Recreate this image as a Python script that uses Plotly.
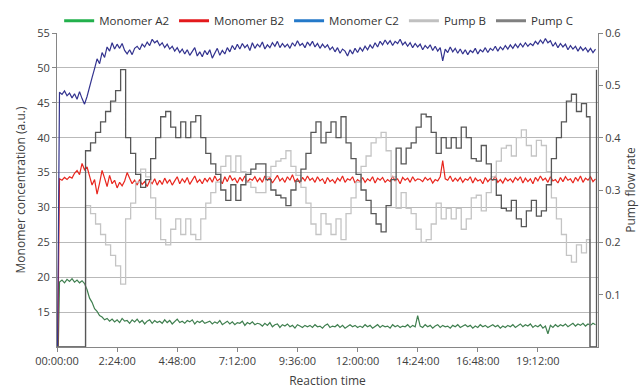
import numpy as np
import plotly.graph_objects as go

# ---------------- data ----------------
SAMPLE_STEP_H = 0.1          # monomer sampling interval (hours)
monomer_a2 = [0,
    19.3, 19.6, 19.2, 19.7, 19.4, 19.8, 19.3, 19.6, 19.2, 19.5,
    19.1, 18.2, 17.0, 16.4, 15.5, 15.1, 14.5, 14.3, 13.9, 14.1,
    13.7, 14.0, 13.6, 13.9, 13.5, 14.1, 13.7, 13.8, 13.4, 13.9, 13.6, 14.0, 13.5, 13.8, 13.3, 13.7, 13.9, 13.4, 13.8, 13.5,
    13.7, 13.4, 13.9, 13.5, 13.8, 13.3, 13.6, 14.0, 13.5, 13.7, 13.4, 13.8, 13.6, 13.9, 13.3, 13.7, 13.5, 13.8, 13.4, 13.6,
    13.7, 13.3, 13.6, 13.4, 13.8, 13.2, 13.5, 13.7, 13.3, 13.6, 13.2, 13.5, 13.4, 13.7, 13.1, 13.5, 13.3, 13.6, 13.2, 13.4,
    13.3, 13.0, 13.4, 13.1, 13.5, 12.9, 13.2, 13.3, 12.8, 13.2, 13.0, 13.3, 12.9, 13.1, 12.7, 13.2, 13.0, 12.8, 13.1, 12.9,
    13.1, 12.8, 13.2, 12.9, 13.0, 12.7, 13.1, 13.3, 12.8, 13.0, 12.9, 13.2, 12.8, 13.1, 12.7, 13.0, 13.2, 12.9, 13.1, 12.8,
    13.0, 12.8, 13.2, 12.9, 13.1, 12.7, 13.0, 13.2, 12.8, 13.1, 12.9, 13.0, 12.7, 13.2, 12.9, 13.1, 12.8, 13.0, 12.9, 13.2,
    12.8, 13.1, 12.9, 14.5, 13.0, 12.8, 13.2, 12.9, 13.1, 12.7, 13.0, 13.2, 12.8, 13.1, 12.9, 13.0, 12.7, 13.1, 12.9, 13.2,
    12.8, 13.0, 13.2, 12.9, 13.1, 12.7, 13.0, 12.8, 13.2, 12.9, 13.1, 12.8, 13.0, 13.2, 12.9, 13.1, 12.7, 13.0, 12.8, 13.1,
    12.9, 13.2, 12.8, 13.1, 13.3, 12.9, 13.2, 13.0, 13.3, 12.8, 13.1, 12.9, 13.2, 12.7, 13.0, 11.9, 13.1, 12.8, 13.2, 12.9,
    13.2, 13.0, 13.3, 12.9, 13.2, 13.4, 13.0, 13.3, 13.1, 13.4, 13.0, 13.3, 13.1, 13.4, 13.2]

monomer_b2 = [0,
    34.1, 33.9, 34.3, 34.0, 34.4, 34.2, 34.9, 35.3, 34.7, 36.3,
    35.4, 35.8, 34.6, 33.2, 34.0, 31.9, 33.5, 35.3, 34.2, 33.0,
    34.6, 33.4, 33.9, 32.8, 33.6, 33.1, 33.8, 35.0, 34.2, 33.4,
    33.9, 33.2, 34.0, 33.3, 33.7, 33.0, 33.8, 33.4, 34.1, 33.2,
    33.9, 33.3, 34.2, 33.5, 34.0, 33.2, 33.8, 34.4, 33.4, 34.1, 33.6, 34.3, 33.3, 33.9, 34.5, 33.6, 34.0, 33.4, 34.2, 33.7,
    34.3, 33.6, 34.5, 33.8, 34.1, 33.4, 34.4, 33.7, 34.6, 33.9, 34.2, 33.5, 34.3, 33.8, 34.5, 33.6, 34.1, 33.9, 34.4, 33.7,
    34.2, 33.6, 34.5, 33.9, 34.3, 33.5, 34.1, 34.6, 33.8, 34.2, 33.6, 34.4, 33.9, 34.7, 33.7, 34.1, 33.5, 34.3, 33.8, 34.5,
    33.9, 34.2, 33.6, 34.4, 33.8, 34.1, 33.4, 34.3, 33.7, 34.0, 33.5, 34.2, 33.8, 34.5, 33.6, 34.1, 33.9, 34.4, 33.5, 34.0,
    33.7, 34.3, 33.6, 34.1, 33.8, 34.4, 33.5, 34.2, 33.9, 34.3, 33.6, 34.0, 33.7, 34.5, 33.8, 34.1, 33.4, 34.3, 33.9, 34.2,
    33.6, 34.4, 33.8, 34.1, 34.0, 33.7, 34.3, 33.9, 34.2, 33.5, 34.0, 33.8, 34.4, 36.7, 34.1, 33.9, 34.5, 33.7, 34.2, 33.8,
    34.3, 33.6, 34.1, 33.9, 34.4, 33.5, 34.2, 33.8, 34.0, 33.4, 34.3, 33.7, 34.1, 33.9, 34.5, 33.6, 34.0, 33.5, 34.2, 33.8,
    34.1, 33.6, 34.3, 33.9, 34.4, 33.5, 34.2, 33.7, 34.1, 33.4, 34.3, 33.8, 34.5, 33.9, 34.2, 33.6, 34.4, 33.8, 34.0, 33.5,
    34.3, 33.7, 34.4, 33.9, 34.1, 33.5, 34.3, 33.8, 34.5, 33.6, 34.2, 33.9, 34.4, 33.7, 34.1]

monomer_c2 = [0,
    46.5, 46.2, 46.7, 46.0, 46.4, 45.7, 46.3, 45.5, 46.6, 45.6,
    44.8, 45.9, 47.4, 48.6, 49.9, 51.3, 50.6, 52.2, 51.5, 53.0,
    52.4, 53.6, 52.7, 53.4, 52.8, 53.5, 52.5, 52.0, 52.6, 51.9,
    52.8, 53.1, 52.6, 53.4, 53.0, 53.7, 53.2, 54.1, 53.6, 53.9,
    53.2, 53.6, 52.9, 53.4, 52.7, 53.1, 52.4, 52.9, 52.2, 52.7,
    52.0, 52.6, 51.8, 52.4, 52.9, 51.7, 52.3, 51.6, 52.5, 51.9,
    52.6, 51.4, 52.2, 52.8, 51.8, 52.5, 52.0, 52.9, 52.3, 53.2,
    52.6, 53.4, 52.7, 53.5, 52.9, 53.3, 52.5, 53.6, 52.8, 53.4,
    53.0, 53.7, 52.7, 53.3, 52.9, 53.6, 53.1, 53.8, 52.9, 53.5,
    53.0, 53.4, 52.8, 53.6, 53.1, 53.9, 53.2, 53.5, 52.9, 53.7,
    53.2, 53.8, 53.0, 53.5, 52.8, 53.4, 52.9, 53.3, 52.6, 53.0,
    52.3, 52.9, 52.1, 52.7, 52.4, 51.7, 52.6, 52.0, 52.8, 52.2,
    52.9, 52.4, 53.1, 52.6, 53.3, 52.8, 53.6, 53.0, 53.8, 53.3,
    54.0, 53.4, 53.9, 53.2, 53.8, 53.5, 54.1, 53.3, 53.7, 53.1,
    53.6, 52.9, 53.5, 53.0, 53.4, 52.6, 53.2, 52.8, 53.3, 52.5,
    53.1, 52.4, 52.9, 51.0, 52.7, 52.2, 53.0, 52.3, 52.8, 52.1,
    52.7, 52.0, 52.6, 51.9, 52.5, 52.2, 52.8, 52.0, 52.6, 52.3,
    52.9, 52.2, 52.8, 52.5, 53.1, 52.4, 53.0, 52.6, 53.2, 52.7,
    53.3, 52.8, 53.4, 52.9, 53.5, 53.0, 53.6, 53.1, 53.5, 53.2,
    53.8, 53.4, 54.0, 53.5, 54.2, 53.6, 53.9, 53.1, 53.6, 52.9,
    53.5, 53.0, 53.4, 52.6, 53.2, 52.7, 53.1, 52.4, 53.0, 52.5,
    52.9, 52.3, 52.8, 52.2, 52.7]

PUMP_START_H = 1.14          # pumps switch on
PUMP_STEP_H = 0.2            # pump set-point interval (hours)
pump_c = [0.375, 0.39, 0.41, 0.43, 0.45, 0.47, 0.49, 0.53, 0.40, 0.37,
          0.33, 0.305, 0.32, 0.36, 0.40, 0.44, 0.45, 0.42, 0.40, 0.43,
          0.40, 0.43, 0.442, 0.40, 0.37, 0.35, 0.33, 0.30, 0.28, 0.31,
          0.28, 0.31, 0.33, 0.34, 0.35, 0.35, 0.32, 0.30, 0.29, 0.285,
          0.27, 0.30, 0.317, 0.34, 0.37, 0.41, 0.43, 0.39, 0.41, 0.43,
          0.40, 0.44, 0.39, 0.36, 0.33, 0.30, 0.28, 0.255, 0.235, 0.22,
          0.27, 0.32, 0.38, 0.35, 0.38, 0.39, 0.42, 0.445, 0.44, 0.41,
          0.37, 0.40, 0.38, 0.40, 0.38, 0.42, 0.40, 0.36, 0.355, 0.385,
          0.35, 0.32, 0.29, 0.265, 0.26, 0.28, 0.245, 0.23, 0.26, 0.28,
          0.25, 0.26, 0.31, 0.36, 0.40, 0.43, 0.47, 0.483, 0.45, 0.465,
          0.44]
pump_b = [0.27, 0.255, 0.235, 0.215, 0.195, 0.175, 0.155, 0.12, 0.245, 0.275,
          0.315, 0.34, 0.325, 0.285, 0.245, 0.205, 0.195, 0.225, 0.245, 0.215,
          0.245, 0.215, 0.205, 0.245, 0.275, 0.295, 0.315, 0.345, 0.365, 0.335,
          0.365, 0.335, 0.315, 0.305, 0.295, 0.295, 0.325, 0.345, 0.355, 0.36,
          0.375, 0.345, 0.328, 0.305, 0.275, 0.235, 0.215, 0.255, 0.235, 0.215,
          0.245, 0.205, 0.255, 0.285, 0.315, 0.345, 0.365, 0.39, 0.40, 0.41,
          0.375, 0.325, 0.265, 0.295, 0.265, 0.255, 0.225, 0.20, 0.205, 0.235,
          0.275, 0.245, 0.265, 0.245, 0.265, 0.225, 0.245, 0.285, 0.29, 0.26,
          0.295, 0.325, 0.355, 0.38, 0.385, 0.365, 0.40, 0.415, 0.385, 0.365,
          0.395, 0.385, 0.335, 0.285, 0.245, 0.215, 0.175, 0.162, 0.195, 0.18,
          0.205]
pump_end_t = [21.28, 21.54]
pump_c_end = [0.0, 0.53]
pump_b_end = [0.0, 0.0]

tick_hours = [0, 2.4, 4.8, 7.2, 9.6, 12.0, 14.4, 16.8, 19.2]
tick_labels = ["00:00:00", "2:24:00", "4:48:00", "7:12:00", "9:36:00",
               "12:00:00", "14:24:00", "16:48:00", "19:12:00"]
left_ticks = [15, 20, 25, 30, 35, 40, 45, 50, 55]
right_ticks = [0.1, 0.2, 0.3, 0.4, 0.5, 0.6]

# ---------------- build ----------------
t_mono = np.round(np.arange(len(monomer_a2)) * SAMPLE_STEP_H, 3)
t_pump_core = np.round(PUMP_START_H + np.arange(len(pump_c)) * PUMP_STEP_H, 3)
t_pump = [0.0] + list(t_pump_core) + pump_end_t
pc = [0.0] + pump_c + pump_c_end
pb = [0.0] + pump_b + pump_b_end

FONT = "Open Sans"
TXT = "#404040"
AX = "#868686"

fig = go.Figure()
line_traces = [
    ("Monomer A2", t_mono, monomer_a2, "#3f7f4f"),
    ("Monomer B2", t_mono, monomer_b2, "#e8261e"),
    ("Monomer C2", t_mono, monomer_c2, "#33338f"),
]
for name, x, y, c in line_traces:
    fig.add_trace(go.Scatter(x=x, y=y, mode="lines", name=name, showlegend=False,
                             line=dict(color=c, width=1.2), yaxis="y", hoverinfo="skip"))
fig.add_trace(go.Scatter(x=t_pump, y=pb, mode="lines", name="Pump B", showlegend=False,
                         line=dict(color="#c4c4c4", width=1.3, shape="hv"), yaxis="y2",
                         hoverinfo="skip"))
fig.add_trace(go.Scatter(x=t_pump, y=pc, mode="lines", name="Pump C", showlegend=False,
                         line=dict(color="#575757", width=1.3, shape="hv"), yaxis="y2",
                         hoverinfo="skip"))

legend_items = [("Monomer A2", "#22b04c"), ("Monomer B2", "#e3191c"),
                ("Monomer C2", "#2479c9"), ("Pump B", "#c0c0c0"), ("Pump C", "#808080")]
for name, c in legend_items:
    fig.add_trace(go.Scatter(x=[None], y=[None], mode="lines", name=name,
                             line=dict(color=c, width=3)))

fig.update_layout(
    width=641, height=389,
    margin=dict(l=57, r=43, t=33, b=42, autoexpand=False),
    paper_bgcolor="white", plot_bgcolor="white",
    font=dict(family=FONT, size=11, color=TXT),
    hovermode=False,
    showlegend=True,
    legend=dict(orientation="h", x=0.004, xanchor="left", y=1.085, yanchor="top",
                font=dict(size=11.5, color="#333333"), itemwidth=30,
                bgcolor="rgba(0,0,0,0)", traceorder="normal"),
    xaxis=dict(range=[0, 21.6], tickvals=tick_hours, ticktext=tick_labels,
               showgrid=False, zeroline=False, showline=True, linecolor=AX,
               ticks="outside", ticklen=4, tickcolor=AX,
               tickfont=dict(size=11, color=TXT),
               title=dict(text="Reaction time", font=dict(size=12, color=TXT), standoff=13)),
    yaxis=dict(range=[10, 55], tickvals=left_ticks, showgrid=True, gridcolor="#b9b9b9",
               zeroline=False, showline=True, linecolor=AX, ticks="outside", ticklen=4,
               tickcolor=AX, tickfont=dict(size=11, color=TXT),
               title=dict(text="Monomer concentration (a.u.)", font=dict(size=12, color=TXT),
                          standoff=9)),
    yaxis3=dict(range=[10, 55], overlaying="y", tickvals=[35, 40, 45, 50, 55],
                showgrid=True, gridcolor="#858585", showticklabels=False, ticks="",
                showline=False, zeroline=False),
    yaxis2=dict(range=[0, 0.6], overlaying="y", side="right", tickvals=right_ticks,
                tickformat=".1f", showgrid=False, zeroline=False, showline=True,
                linecolor=AX, ticks="outside", ticklen=4, tickcolor=AX,
                tickfont=dict(size=11, color=TXT),
                title=dict(text="Pump flow rate", font=dict(size=12, color=TXT), standoff=6)),
)

fig.write_html("out.html", config={"displayModeBar": False},
               post_script="document.body.style.margin='0px';document.body.style.padding='0px';")
